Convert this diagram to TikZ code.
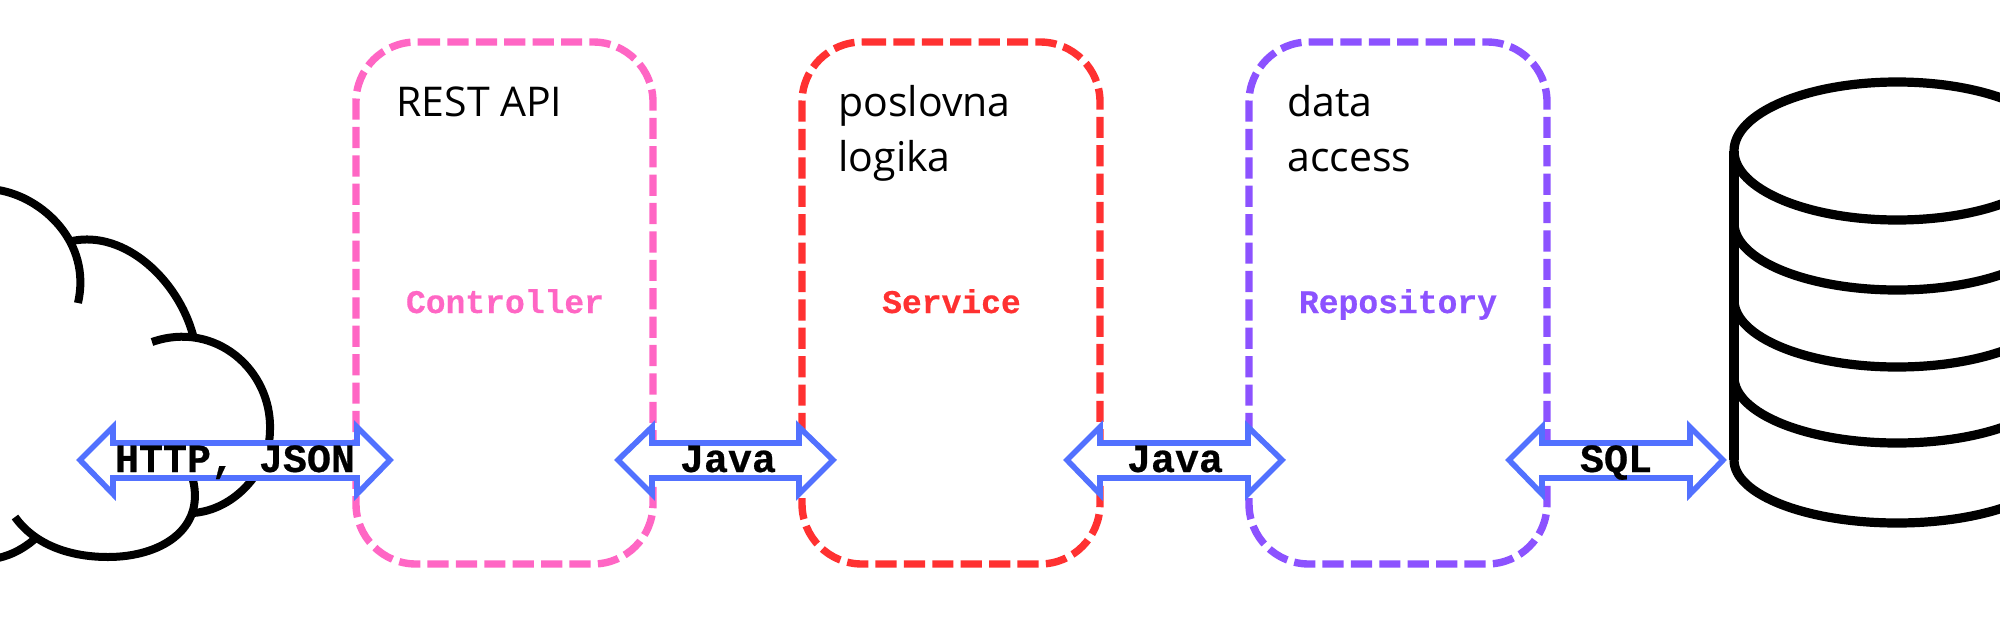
\documentclass[tikz,border=0pt]{standalone}
\usepackage{fontspec}
\setmainfont{Open Sans}
\newfontfamily\monob[BoldFont={Liberation Mono Bold},BoldFeatures={FakeBold=0.5}]{Liberation Mono}
\definecolor{cpink}{HTML}{FF66C4}
\definecolor{cred}{HTML}{FF3131}
\definecolor{cpurple}{HTML}{8C52FF}
\definecolor{cblue}{HTML}{5271FF}
\tikzset{
  px/.style={x=0.5pt,y=-0.5pt},
  layerbox/.style={draw=#1,line width=3.7pt,dash pattern=on 10.6pt off 3.6pt},
  blackline/.style={draw=black,line width=4.6pt},
  cloudline/.style={draw=black,line width=4pt},
  biarrow/.style={draw=cblue,line width=2.8pt,fill=white,miter limit=10},
  caption/.style={inner sep=0pt,anchor=base west,font=\fontsize{20.5pt}{24pt}\selectfont},
  layername/.style={inner sep=0pt,anchor=base,text=#1,font=\fontsize{16.5pt}{20pt}\selectfont\monob\bfseries},
  arrowlabel/.style={inner sep=0pt,anchor=base,text=black,font=\fontsize{20pt}{24pt}\selectfont\monob\bfseries},
}
\newcommand{\biarrowshape}[4]{% left tip, left base, right base, right tip
  \path[biarrow] (#1,460) -- (#2,427) -- (#2,443) -- (#3,443) -- (#3,427) -- (#4,460) -- (#3,494) -- (#3,478) -- (#2,478) -- (#2,494) -- cycle;
}
\newcommand{\layerboxshape}[3]{% colour, left, right
  \draw[layerbox=#1] ({#2+63},42) -- ({#3-60},42) arc[start angle=-90,end angle=0,radius=60]
    -- (#3,504) arc[start angle=0,end angle=90,radius=60]
    -- ({#2+60},564) arc[start angle=90,end angle=180,radius=60]
    -- (#2,102) arc[start angle=180,end angle=270,radius=60] -- cycle;
}
\begin{document}
\begin{tikzpicture}[px]
\useasboundingbox (0,0) rectangle (2000,621);
\clip (0,0) rectangle (2000,621);
% cloud
\draw[cloudline] (-2,190) .. controls (42,197) and (92,242) .. (78,303);
\draw[cloudline] (72,241) .. controls (125,230) and (178,280) .. (193,335);
\draw[cloudline] (152,342) .. controls (215,320) and (272,370) .. (270,430) .. controls (270,470) and (235,510) .. (193,513);
\draw[cloudline] (193,480) .. controls (205,530) and (160,557) .. (108,557) .. controls (70,557) and (35,545) .. (15,517);
\draw[cloudline] (37,537) .. controls (25,548) and (12,555) .. (-2,558);
% database
\draw[blackline] (1734,460) -- (1734,151);
\draw[blackline] (1734,151) arc[start angle=180,end angle=-180,x radius=163,y radius=69];
\foreach \yy/\rr in {223/67,300/67,377/66,460/63}{
  \draw[blackline] (1734,\yy) arc[start angle=180,end angle=0,x radius=163,y radius=\rr];
}
% boxes
\layerboxshape{cpink}{356}{653}
\layerboxshape{cred}{802}{1100}
\layerboxshape{cpurple}{1249}{1547}
% captions
\node[caption] (cap1) at (396,116) {REST API};
\node[caption] (cap2) at (838,116) {poslovna};
\node[caption] (cap2b) at (838,171) {logika};
\node[caption] (cap3) at (1287,116) {data};
\node[caption] (cap3b) at (1287,171) {access};
\node[layername=cpink] (ctl) at (505,313) {Controller};
\node[layername=cred] (svc) at (951.5,313) {Service};
\node[layername=cpurple] (rep) at (1398,313) {Repository};
% arrows
\biarrowshape{80}{113}{357}{390}
\biarrowshape{618}{652}{799}{833}
\biarrowshape{1067}{1100}{1248}{1282}
\biarrowshape{1509}{1542}{1690}{1723}
\node[arrowlabel] (l1) at (235,472) {HTTP, JSON};
\node[arrowlabel] (l2) at (728,472) {Java};
\node[arrowlabel] (l3) at (1175,472) {Java};
\node[arrowlabel] (l4) at (1616,472) {SQL};
\end{tikzpicture}
\end{document}
